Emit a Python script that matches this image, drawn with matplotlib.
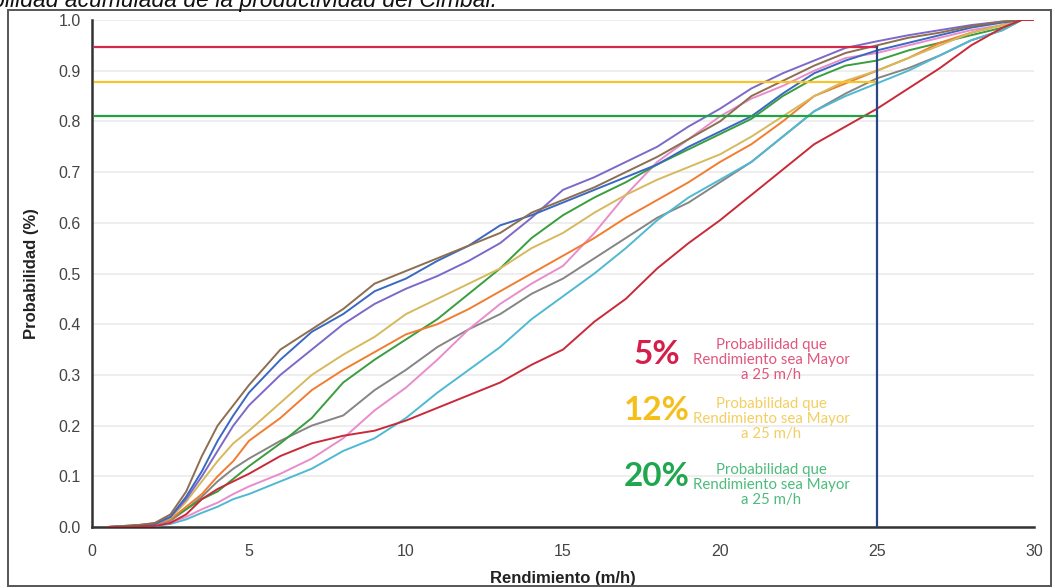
import numpy as np
import matplotlib
matplotlib.use("Agg")
import matplotlib.pyplot as plt
from matplotlib.patches import Rectangle

# rendimiento (m/h) where each curve was read
x_pts = [0.5, 1, 1.5, 2, 2.5, 3, 3.5, 4, 4.5, 5, 6, 7, 8, 9, 10, 11, 12, 13, 14,
         15, 16, 17, 18, 19, 20, 21, 22, 23, 24, 25, 26, 27, 28, 29, 29.6, 30]

brown = [0, 0.002, 0.004, 0.008, 0.025, 0.07, 0.14, 0.2, 0.24, 0.28, 0.35, 0.39, 0.43, 0.48,
         0.505, 0.53, 0.555, 0.58, 0.62, 0.645, 0.67, 0.70, 0.73, 0.765, 0.80, 0.85, 0.88,
         0.91, 0.935, 0.95, 0.965, 0.975, 0.988, 0.997, 1.0, 1.0]
blue = [0, 0.001, 0.003, 0.006, 0.02, 0.06, 0.11, 0.17, 0.22, 0.265, 0.33, 0.385, 0.42, 0.465,
        0.49, 0.525, 0.555, 0.595, 0.615, 0.64, 0.665, 0.69, 0.715, 0.75, 0.78, 0.81, 0.855,
        0.895, 0.92, 0.94, 0.955, 0.97, 0.985, 0.995, 1.0, 1.0]
purple = [0, 0.001, 0.003, 0.006, 0.02, 0.055, 0.1, 0.15, 0.2, 0.24, 0.3, 0.35, 0.4, 0.44,
          0.47, 0.495, 0.525, 0.56, 0.61, 0.665, 0.69, 0.72, 0.75, 0.79, 0.825, 0.865, 0.895,
          0.92, 0.945, 0.958, 0.97, 0.98, 0.99, 0.997, 1.0, 1.0]
tan = [0, 0.001, 0.003, 0.006, 0.018, 0.05, 0.09, 0.13, 0.165, 0.19, 0.245, 0.3, 0.34, 0.375,
       0.42, 0.45, 0.48, 0.51, 0.55, 0.58, 0.62, 0.655, 0.685, 0.71, 0.735, 0.77, 0.81,
       0.85, 0.88, 0.9, 0.925, 0.95, 0.975, 0.99, 1.0, 1.0]
orange = [0, 0.001, 0.003, 0.006, 0.015, 0.04, 0.065, 0.1, 0.13, 0.17, 0.215, 0.27, 0.31, 0.345,
          0.38, 0.4, 0.43, 0.465, 0.5, 0.535, 0.57, 0.61, 0.645, 0.68, 0.72, 0.755, 0.8,
          0.85, 0.875, 0.9, 0.925, 0.955, 0.975, 0.99, 1.0, 1.0]
green = [0, 0.002, 0.004, 0.007, 0.016, 0.035, 0.055, 0.07, 0.095, 0.12, 0.165, 0.215, 0.285, 0.33,
         0.37, 0.41, 0.46, 0.51, 0.57, 0.615, 0.65, 0.68, 0.715, 0.745, 0.775, 0.805, 0.85,
         0.885, 0.91, 0.92, 0.94, 0.955, 0.97, 0.985, 1.0, 1.0]
gray = [0, 0.001, 0.002, 0.004, 0.012, 0.035, 0.06, 0.09, 0.115, 0.135, 0.17, 0.2, 0.22, 0.27,
        0.31, 0.355, 0.39, 0.42, 0.46, 0.49, 0.53, 0.57, 0.61, 0.64, 0.68, 0.72, 0.77,
        0.82, 0.855, 0.885, 0.905, 0.93, 0.96, 0.98, 1.0, 1.0]
pink = [0, 0.001, 0.002, 0.003, 0.008, 0.02, 0.035, 0.048, 0.065, 0.08, 0.105, 0.135, 0.175, 0.23,
        0.275, 0.33, 0.39, 0.44, 0.48, 0.515, 0.58, 0.655, 0.72, 0.765, 0.81, 0.845, 0.87,
        0.9, 0.925, 0.935, 0.95, 0.965, 0.98, 0.99, 1.0, 1.0]
cyan = [0, 0, 0.001, 0.002, 0.006, 0.015, 0.028, 0.04, 0.055, 0.065, 0.09, 0.115, 0.15, 0.175,
        0.215, 0.265, 0.31, 0.355, 0.41, 0.455, 0.5, 0.55, 0.605, 0.65, 0.685, 0.72, 0.77,
        0.82, 0.85, 0.875, 0.9, 0.93, 0.96, 0.98, 1.0, 1.0]
red = [0, 0, 0.001, 0.002, 0.008, 0.025, 0.055, 0.075, 0.09, 0.105, 0.14, 0.165, 0.18, 0.19,
       0.21, 0.235, 0.26, 0.285, 0.32, 0.35, 0.405, 0.45, 0.51, 0.56, 0.605, 0.655, 0.705,
       0.755, 0.79, 0.825, 0.865, 0.905, 0.95, 0.985, 1.0, 1.0]

series = [gray, cyan, pink, green, orange, tan, purple, blue, brown, red]
series_colors = ["#858585", "#4fb9d3", "#e98ccb", "#3a9d3e", "#f07d30", "#d6b95c",
                 "#7c69c9", "#3a68c2", "#8d6e50", "#c92a3a"]

# reference levels (probabilities) and threshold
ref_levels = [0.947, 0.878, 0.81]
ref_colors = ["#d42a4a", "#f7c22a", "#21a343"]
threshold = 25
big_labels = ["5%", "12%", "20%"]
big_colors = ["#d41f4a", "#f5bf1b", "#1fa64e"]
small_colors = ["#e0567e", "#f2cf60", "#4dbb7c"]
note = "Probabilidad que\nRendimiento sea Mayor\na 25 m/h"

W, H = 1055, 588
fig = plt.figure(figsize=(W / 100, H / 100), dpi=100)
ax = fig.add_axes([92 / W, 1 - 527 / H, (1034 - 92) / W, (527 - 20) / H])

for vals, c in zip(series, series_colors):
    ax.plot(x_pts, vals, color=c, lw=1.4, zorder=3)

for lvl, c in zip(ref_levels, ref_colors):
    ax.plot([0.1, threshold], [lvl, lvl], color=c, lw=1.6, zorder=4)
ax.plot([threshold, threshold], [0, ref_levels[0]], color="#2b4685", lw=1.6, zorder=4)

ax.set_xlim(0, 30)
ax.set_ylim(0, 1.0)
ax.set_xticks(range(0, 31, 5))
ax.set_yticks(np.arange(0, 1.01, 0.1))
ax.set_yticklabels([f"{v:.1f}" for v in np.arange(0, 1.01, 0.1)])
ax.grid(axis="y", color="#ebebeb", lw=1.2, zorder=0)
ax.set_axisbelow(True)
ax.tick_params(axis="y", length=0, labelsize=11.5, labelcolor="#444444", pad=8)
ax.tick_params(axis="x", length=0, labelsize=11.5, labelcolor="#444444", pad=12)
for lbl in ax.get_xticklabels() + ax.get_yticklabels():
    lbl.set_family("Liberation Sans")
for s in ["top", "right"]:
    ax.spines[s].set_visible(False)
for s in ["left", "bottom"]:
    ax.spines[s].set_color("#333333")
    ax.spines[s].set_linewidth(1.8)

ax.set_xlabel("Rendimiento (m/h)", fontsize=12, fontweight="bold", family="Liberation Sans",
              color="#222222", labelpad=9)
ax.set_ylabel("Probabilidad (%)", fontsize=12, fontweight="bold", family="Liberation Sans",
              color="#222222", labelpad=14)

# annotation blocks
big_y = [355, 410, 477]
note_y = [360, 419, 485]
for lab, bc, sc, by, ny in zip(big_labels, big_colors, small_colors, big_y, note_y):
    fig.text(657 / W, 1 - by / H, lab, color=bc, fontsize=24, fontweight="bold",
             family="Lato", ha="center", va="center")
    fig.text(771 / W, 1 - ny / H, note, color=sc, fontsize=10.8, family="Lato",
             ha="center", va="center", linespacing=1.1)

# cut-off caption above the frame
fig.text(497 / W, 1 - 7 / H, "Probabilidad acumulada de la productividad del Cimbal.",
         fontsize=16.5, style="italic", family="Liberation Sans", color="#111111",
         ha="right", va="baseline")

fig.patches.append(Rectangle((8 / W, 1 - 586 / H), (1051 - 8) / W, (586 - 10) / H,
                             transform=fig.transFigure, fill=False, ec="#555555", lw=1.4))

fig.savefig("out.png", dpi=100)
